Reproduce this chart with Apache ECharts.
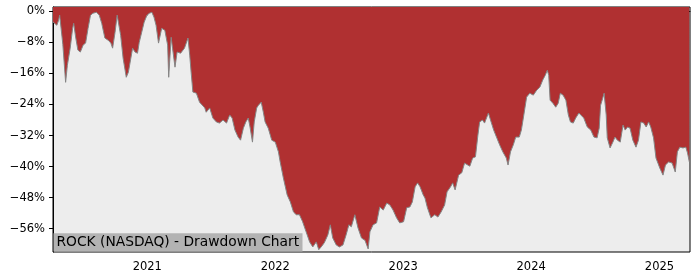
<!DOCTYPE html>
<html>
<head>
<meta charset="utf-8">
<script src="https://cdn.jsdelivr.net/npm/echarts@6/dist/echarts.min.js"></script>
<style>
html,body{margin:0;padding:0;background:#fff;}
#chart{width:700px;height:280px;}
</style>
</head>
<body>
<div id="chart"></div>
<script>
var dates = [
'2020-04-07','2020-04-12','2020-04-18','2020-04-23','2020-04-26','2020-05-05','2020-05-13','2020-05-18','2020-05-26','2020-06-02',
'2020-06-05','2020-06-11','2020-06-17','2020-06-24','2020-07-02','2020-07-09','2020-07-16','2020-07-23','2020-07-30','2020-08-09',
'2020-08-17','2020-08-24','2020-09-02','2020-09-12','2020-09-19','2020-09-24','2020-10-01','2020-10-07','2020-10-12','2020-10-17',
'2020-10-24','2020-11-02','2020-11-08','2020-11-15','2020-11-20','2020-11-27','2020-12-04','2020-12-09','2020-12-16','2020-12-23',
'2020-12-31','2021-01-07','2021-01-14','2021-01-20','2021-01-26','2021-02-02','2021-02-11','2021-02-20','2021-02-28','2021-03-03',
'2021-03-10','2021-03-14','2021-03-21','2021-03-27','2021-04-06','2021-04-17','2021-04-27','2021-05-02','2021-05-06','2021-05-11',
'2021-05-21','2021-05-30','2021-06-14','2021-06-18','2021-06-28','2021-07-07','2021-07-17','2021-07-26','2021-08-05','2021-08-15',
'2021-08-24','2021-08-31','2021-09-08','2021-09-17','2021-09-24','2021-10-02','2021-10-09','2021-10-16','2021-10-21','2021-10-28',
'2021-11-02','2021-11-09','2021-11-14','2021-11-22','2021-11-28','2021-12-03','2021-12-12','2021-12-22','2022-01-01','2022-01-10',
'2022-01-15','2022-01-24','2022-02-04','2022-02-13','2022-02-22','2022-03-02','2022-03-11','2022-03-20','2022-03-30','2022-04-09',
'2022-04-18','2022-04-28','2022-05-05','2022-05-12','2022-05-21','2022-05-31','2022-06-07','2022-06-14','2022-06-24','2022-07-03',
'2022-07-13','2022-07-22','2022-07-30','2022-08-06','2022-08-16','2022-08-25','2022-09-04','2022-09-14','2022-09-23','2022-09-28',
'2022-10-07','2022-10-17','2022-10-26','2022-11-05','2022-11-15','2022-11-24','2022-12-03','2022-12-13','2022-12-22','2023-01-02',
'2023-01-11','2023-01-20','2023-01-27','2023-02-04','2023-02-11','2023-02-18','2023-02-27','2023-03-04','2023-03-11','2023-03-21',
'2023-04-01','2023-04-10','2023-04-19','2023-04-29','2023-05-06','2023-05-16','2023-05-22','2023-05-29','2023-06-08','2023-06-17',
'2023-06-25','2023-07-04','2023-07-10','2023-07-18','2023-07-26','2023-08-02','2023-08-07','2023-08-15','2023-08-21','2023-09-01',
'2023-09-07','2023-09-16','2023-09-24','2023-10-03','2023-10-12','2023-10-22','2023-10-27','2023-11-03','2023-11-11','2023-11-18',
'2023-11-28','2023-12-04','2023-12-11','2023-12-19','2023-12-28','2024-01-07','2024-01-17','2024-01-26','2024-02-03','2024-02-10',
'2024-02-16','2024-02-20','2024-02-24','2024-03-03','2024-03-11','2024-03-18','2024-03-24','2024-04-01','2024-04-09','2024-04-16',
'2024-04-22','2024-04-30','2024-05-07','2024-05-16','2024-05-30','2024-06-09','2024-06-19','2024-06-28','2024-07-07','2024-07-13',
'2024-07-17','2024-07-23','2024-07-27','2024-08-02','2024-08-05','2024-08-13','2024-08-21','2024-08-27','2024-09-03','2024-09-11',
'2024-09-19','2024-09-25','2024-10-02','2024-10-09','2024-10-17','2024-10-26','2024-11-02','2024-11-09','2024-11-17','2024-11-24',
'2024-12-01','2024-12-07','2024-12-15','2024-12-22','2025-01-02','2025-01-11','2025-01-18','2025-01-27','2025-02-06','2025-02-15',
'2025-02-21','2025-02-28','2025-03-09','2025-03-17','2025-03-22','2025-03-27'
];
var drawdown = [
-2.75,-3.1,-3.6,-2.3,-1.0,-8.5,-18.3,-13.9,-9.5,-4.4,
-3.1,-6.9,-10.0,-10.5,-8.7,-8.2,-4.4,-1.0,-0.5,-0.26,
-1.0,-3.1,-6.9,-7.5,-8.2,-9.5,-5.4,-1.0,-1.5,-6.2,
-12.1,-17.0,-15.7,-12.1,-9.5,-10.5,-10.8,-8.0,-5.4,-2.8,
-1.0,-0.5,-0.26,-1.5,-3.6,-8.2,-4.4,-4.9,-8.7,-17.0,
-6.7,-9.5,-14.4,-10.5,-10.8,-9.5,-6.9,-11.3,-15.7,-20.8,
-21.1,-23.4,-24.9,-26.0,-24.9,-27.5,-28.5,-28.8,-28.0,-28.8,
-26.7,-27.5,-30.6,-32.4,-33.2,-30.1,-28.5,-27.5,-29.8,-33.7,
-28.5,-24.9,-24.2,-23.4,-26.0,-28.5,-30.1,-33.2,-33.7,-36.2,
-38.8,-42.9,-47.3,-49.1,-51.7,-52.4,-52.4,-54.2,-56.8,-59.4,
-60.7,-59.4,-61.4,-60.7,-59.6,-57.6,-55.0,-58.4,-60.2,-60.7,
-60.2,-57.6,-55.0,-55.5,-52.4,-55.8,-58.4,-59.0,-61.2,-56.8,
-55.0,-54.5,-50.4,-51.2,-49.4,-49.9,-51.2,-53.2,-54.5,-54.2,
-50.6,-50.4,-49.1,-45.2,-44.2,-45.2,-47.3,-48.1,-50.6,-53.2,
-52.4,-53.0,-51.7,-49.9,-46.5,-45.2,-44.2,-46.0,-42.2,-41.6,
-39.1,-39.6,-39.9,-37.8,-37.5,-31.9,-28.5,-28.0,-28.8,-26.2,
-28.0,-30.6,-32.4,-34.4,-36.2,-37.8,-39.6,-36.2,-34.4,-32.4,
-32.4,-30.6,-26.7,-22.1,-21.1,-21.6,-20.3,-19.5,-17.7,-16.5,
-15.2,-16.5,-22.9,-23.7,-24.7,-23.7,-21.1,-21.6,-22.9,-26.7,
-28.5,-28.8,-27.5,-26.2,-27.5,-29.8,-30.6,-32.4,-32.6,-30.1,
-24.2,-22.4,-21.1,-26.7,-32.6,-35.2,-33.7,-32.4,-33.2,-33.7,
-29.3,-30.6,-29.8,-30.1,-33.2,-35.0,-33.2,-28.5,-28.8,-29.8,
-28.5,-29.8,-32.6,-37.8,-40.4,-42.2,-39.6,-38.8,-39.1,-41.4,
-36.2,-35.0,-35.2,-35.0,-36.5,-38.8
];
var yTicks = [0, -8, -16, -24, -32, -40, -48, -56];
var xTicks = ['2021-01-01', '2022-01-01', '2023-01-01', '2024-01-01', '2025-01-01'];
var titleText = 'ROCK (NASDAQ) - Drawdown Chart';

function ts(d) { return Date.UTC(+d.slice(0, 4), +d.slice(5, 7) - 1, +d.slice(8, 10)); }

var chart = echarts.init(document.getElementById('chart'), null, {renderer: 'canvas'});
var seriesData = dates.map(function (d, i) { return [ts(d), drawdown[i]]; });
var xTickVals = xTicks.map(ts);
var FONT = 'DejaVu Sans';

chart.setOption({
  animation: false,
  backgroundColor: '#ffffff',
  grid: {
    left: 53, right: 10, top: 7, bottom: 28,
    show: true, backgroundColor: '#ededed', borderColor: '#000', borderWidth: 1
  },
  xAxis: {
    type: 'value',
    min: ts('2020-04-07'),
    max: ts('2025-03-29'),
    splitLine: {show: false},
    axisLine: {show: true, lineStyle: {color: '#000', width: 1}},
    axisTick: {show: true, customValues: xTickVals, length: 4, lineStyle: {color: '#000'}},
    axisLabel: {
      customValues: xTickVals, margin: 9, color: '#000', fontFamily: FONT, fontSize: 11.5,
      formatter: function (v) { return String(new Date(v).getUTCFullYear()); }
    }
  },
  yAxis: {
    type: 'value',
    min: -62, max: 1.1,
    splitLine: {show: false},
    axisLine: {show: true, lineStyle: {color: '#000', width: 1}},
    axisTick: {show: true, customValues: yTicks, length: 4, lineStyle: {color: '#000'}},
    axisLabel: {
      customValues: yTicks, margin: 8, color: '#000', fontFamily: FONT, fontSize: 11.5,
      formatter: function (v) { return (v < 0 ? '\u2212' : '') + Math.abs(v) + '%'; }
    }
  },
  series: [{
    type: 'line',
    data: seriesData,
    showSymbol: false,
    lineStyle: {color: '#858585', width: 1},
    areaStyle: {color: '#b03031', opacity: 1, origin: 'end'},
    z: 2
  }],
  graphic: [
    {type: 'rect', shape: {x: 53.5, y: 233.3, width: 249, height: 18.2}, style: {fill: '#b3b3b3'}, z: 100},
    {type: 'text', x: 56.5, y: 242.6, style: {text: titleText, fill: '#000', font: '13.8px "DejaVu Sans"', verticalAlign: 'middle', align: 'left'}, z: 101}
  ]
});
</script>
</body>
</html>
